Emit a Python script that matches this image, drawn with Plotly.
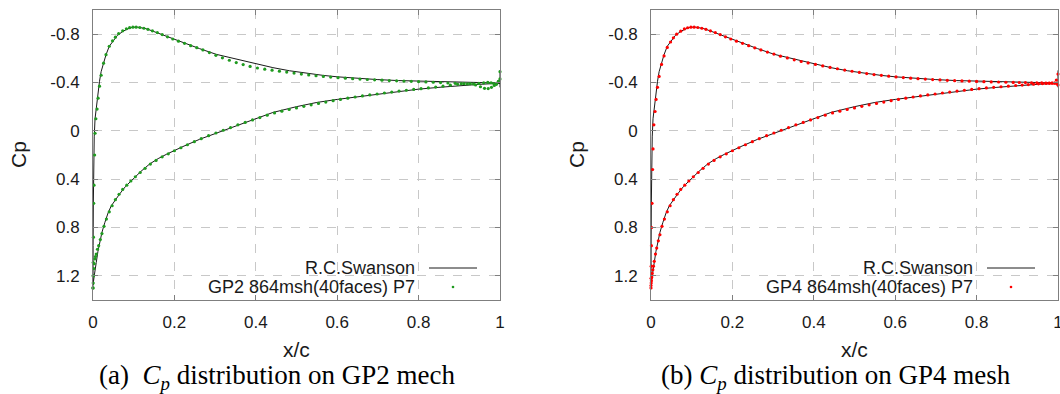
import plotly.graph_objects as go

# ---------------- data ----------------
ref_x_upper = [0.0, 0.0003, 0.0008, 0.0015, 0.003, 0.005, 0.008, 0.012, 0.016, 0.02, 0.026, 0.032, 0.04,
               0.049, 0.06, 0.074, 0.09, 0.098, 0.11, 0.131, 0.155, 0.18, 0.2, 0.221, 0.262, 0.303, 0.344,
               0.385, 0.41, 0.442, 0.483, 0.524, 0.565, 0.6, 0.65, 0.7, 0.75, 0.8, 0.85, 0.9, 0.95, 0.98,
               0.995, 1.0, 1.0]
ref_cp_upper = [1.28, 0.95, 0.6, 0.3, 0.05, -0.1, -0.2, -0.31, -0.41, -0.49, -0.56, -0.63, -0.70,
                -0.74, -0.79, -0.825, -0.85, -0.858, -0.858, -0.845, -0.815, -0.78, -0.757, -0.73, -0.68,
                -0.633, -0.597, -0.565, -0.548, -0.523, -0.497, -0.476, -0.459, -0.447, -0.433, -0.424,
                -0.416, -0.41, -0.405, -0.401, -0.398, -0.397, -0.396, -0.395, -0.50]

ref_x_lower = [0.0, 0.001, 0.003, 0.005, 0.008, 0.012, 0.016, 0.022, 0.029, 0.037, 0.045, 0.057, 0.066,
               0.08, 0.098, 0.118, 0.139, 0.16, 0.18, 0.2, 0.221, 0.262, 0.303, 0.344, 0.385, 0.442, 0.5,
               0.55, 0.6, 0.65, 0.7, 0.75, 0.8, 0.85, 0.9, 0.95, 0.98, 1.0, 1.0]
ref_cp_lower = [1.28, 1.25, 1.2, 1.14, 1.09, 1.0, 0.93, 0.84, 0.76, 0.68, 0.62, 0.56, 0.52,
                0.46, 0.40, 0.335, 0.275, 0.23, 0.195, 0.162, 0.13, 0.07, 0.02, -0.035, -0.085, -0.152,
                -0.2, -0.235, -0.26, -0.282, -0.303, -0.325, -0.345, -0.36, -0.375, -0.385, -0.39, -0.393,
                -0.36]

pts_x_upper = [0.0, 0.0002, 0.0005, 0.001, 0.0017, 0.0025, 0.004, 0.005, 0.007, 0.01, 0.0125, 0.016,
               0.02, 0.026, 0.032, 0.04, 0.048, 0.055, 0.063, 0.073, 0.082, 0.09, 0.098, 0.106, 0.115,
               0.125, 0.135, 0.146, 0.158, 0.17, 0.183, 0.196, 0.21, 0.225, 0.24, 0.255, 0.27, 0.286,
               0.302, 0.318, 0.335, 0.352, 0.369, 0.386, 0.404, 0.422, 0.44, 0.458, 0.476, 0.494, 0.512,
               0.53, 0.548, 0.566, 0.584, 0.602, 0.62, 0.638, 0.656, 0.674, 0.692, 0.71, 0.728, 0.746,
               0.764, 0.782, 0.8, 0.818, 0.836, 0.854, 0.872, 0.89, 0.905, 0.92, 0.935, 0.948, 0.96,
               0.97, 0.978, 0.985, 0.991, 0.996, 1.0]

pts_x_lower = [0.0, 0.0005, 0.001, 0.002, 0.003, 0.0045, 0.006, 0.008, 0.011, 0.014, 0.018, 0.022,
               0.027, 0.033, 0.04, 0.047, 0.055, 0.064, 0.073, 0.083, 0.093, 0.104, 0.116, 0.128, 0.141,
               0.155, 0.17, 0.185, 0.2, 0.216, 0.232, 0.249, 0.266, 0.284, 0.302, 0.32, 0.338, 0.356,
               0.374, 0.392, 0.41, 0.428, 0.446, 0.464, 0.482, 0.5, 0.518, 0.536, 0.554, 0.572, 0.59,
               0.608, 0.626, 0.644, 0.662, 0.68, 0.698, 0.716, 0.734, 0.752, 0.77, 0.788, 0.806, 0.824,
               0.842, 0.86, 0.878, 0.896, 0.912, 0.927, 0.94, 0.952, 0.962, 0.971, 0.979, 0.986, 0.992,
               0.997, 1.0]

gp2_cp_upper = [1.3, 1.2, 1.09, 0.88, 0.6, 0.45, 0.2, 0.02, -0.1, -0.18, -0.27, -0.37,
                -0.46, -0.56, -0.63, -0.7, -0.745, -0.775, -0.805, -0.828, -0.845, -0.854, -0.858, -0.858,
                -0.855, -0.849, -0.84, -0.828, -0.813, -0.797, -0.778, -0.76, -0.742, -0.724, -0.705,
                -0.688, -0.67, -0.648, -0.625, -0.604, -0.584, -0.565, -0.548, -0.533, -0.52, -0.51,
                -0.502, -0.494, -0.486, -0.478, -0.47, -0.463, -0.456, -0.45, -0.445, -0.44, -0.436,
                -0.432, -0.428, -0.425, -0.422, -0.419, -0.416, -0.414, -0.412, -0.41, -0.408, -0.405,
                -0.402, -0.399, -0.396, -0.393, -0.39, -0.388, -0.388, -0.392, -0.397, -0.401, -0.398,
                -0.39, -0.385, -0.41, -0.49]

gp2_cp_lower = [1.3, 1.26, 1.2, 1.14, 1.1, 1.06, 1.04, 1.02, 0.98, 0.95, 0.9, 0.85,
                0.79, 0.73, 0.67, 0.62, 0.57, 0.525, 0.485, 0.45, 0.415, 0.38, 0.345, 0.31, 0.275,
                0.245, 0.215, 0.19, 0.165, 0.14, 0.115, 0.09, 0.065, 0.04, 0.018, -0.005, -0.027, -0.05,
                -0.07, -0.09, -0.11, -0.13, -0.148, -0.163, -0.177, -0.19, -0.203, -0.215, -0.227,
                -0.238, -0.25, -0.26, -0.27, -0.28, -0.289, -0.297, -0.305, -0.313, -0.321, -0.329,
                -0.336, -0.343, -0.349, -0.355, -0.362, -0.37, -0.378, -0.385, -0.39, -0.39, -0.38,
                -0.365, -0.352, -0.35, -0.36, -0.375, -0.39, -0.41, -0.43]

gp4_cp_upper = [1.3, 1.22, 1.12, 0.95, 0.8, 0.6, 0.32, 0.15, -0.05, -0.16, -0.26, -0.36,
                -0.45, -0.55, -0.62, -0.69, -0.735, -0.77, -0.8, -0.825, -0.843, -0.853, -0.858, -0.858,
                -0.855, -0.849, -0.84, -0.828, -0.813, -0.797, -0.778, -0.76, -0.742, -0.724, -0.705,
                -0.687, -0.67, -0.652, -0.635, -0.618, -0.603, -0.588, -0.574, -0.562, -0.55, -0.537,
                -0.525, -0.514, -0.503, -0.493, -0.483, -0.474, -0.466, -0.459, -0.452, -0.446, -0.441,
                -0.436, -0.432, -0.428, -0.424, -0.421, -0.418, -0.415, -0.413, -0.411, -0.409, -0.407,
                -0.405, -0.404, -0.402, -0.401, -0.4, -0.399, -0.398, -0.397, -0.397, -0.396, -0.396,
                -0.396, -0.395, -0.42, -0.47]

gp4_cp_lower = [1.28, 1.26, 1.24, 1.21, 1.18, 1.15, 1.12, 1.08, 1.02, 0.97, 0.91, 0.86,
                0.79, 0.73, 0.67, 0.62, 0.57, 0.525, 0.485, 0.45, 0.415, 0.38, 0.345, 0.31, 0.275,
                0.245, 0.215, 0.19, 0.165, 0.14, 0.115, 0.09, 0.065, 0.04, 0.018, -0.005, -0.027, -0.05,
                -0.07, -0.09, -0.11, -0.13, -0.148, -0.163, -0.177, -0.19, -0.203, -0.215, -0.227,
                -0.238, -0.25, -0.26, -0.27, -0.28, -0.289, -0.297, -0.305, -0.313, -0.321, -0.329,
                -0.336, -0.343, -0.349, -0.355, -0.36, -0.365, -0.37, -0.375, -0.379, -0.383, -0.386,
                -0.389, -0.391, -0.392, -0.393, -0.394, -0.395, -0.39, -0.38]

x_ticks = [0, 0.2, 0.4, 0.6, 0.8, 1.0]
x_tick_labels = ["0", "0.2", "0.4", "0.6", "0.8", "1"]
y_ticks = [-0.8, -0.4, 0, 0.4, 0.8, 1.2]
y_tick_labels = ["-0.8", "-0.4", "0", "0.4", "0.8", "1.2"]

panels = [
    dict(name="GP2 864msh(40faces) P7", color="#1f9a1f",
         cp_upper=gp2_cp_upper, cp_lower=gp2_cp_lower,
         caption="(a)\u00a0\u00a0<i>C<sub>p</sub></i> distribution on GP2 mech"),
    dict(name="GP4 864msh(40faces) P7", color="#ff0000",
         cp_upper=gp4_cp_upper, cp_lower=gp4_cp_lower,
         caption="(b) <i>C<sub>p</sub></i> distribution on GP4 mesh"),
]

# ---------------- layout geometry (pixels of the 1060x394 page) ----------------
W, H = 1060, 394
plot_left = [93, 651]
plot_width = 407
plot_top, plot_bottom = 10, 300
caption_center = [277, 836]


def px(x):
    return x / W


def py(y):
    return 1 - y / H


fig = go.Figure()
sans = "Liberation Sans, Arial, sans-serif"
axis_font = dict(family=sans, size=17, color="#1a1a1a")
annotations = []
shapes = []

for i, p in enumerate(panels):
    xa = "x" if i == 0 else "x2"
    ya = "y" if i == 0 else "y2"
    # reference line (one continuous curve: upper TE -> LE -> lower TE)
    rx = list(reversed(ref_x_upper)) + ref_x_lower[1:]
    ry = list(reversed(ref_cp_upper)) + ref_cp_lower[1:]
    fig.add_trace(go.Scatter(x=rx, y=ry, mode="lines", xaxis=xa, yaxis=ya,
                             line=dict(color="#1a1a1a", width=1), showlegend=False,
                             name="R.C.Swanson", cliponaxis=False))
    fig.add_trace(go.Scatter(x=pts_x_upper + pts_x_lower, y=p["cp_upper"] + p["cp_lower"],
                             mode="markers", xaxis=xa, yaxis=ya,
                             marker=dict(color=p["color"], size=3.2, line=dict(width=0)),
                             showlegend=False, name=p["name"], cliponaxis=False))

    sfx = "" if i == 0 else "2"
    dom_x = [px(plot_left[i]), px(plot_left[i] + plot_width)]
    dom_y = [py(plot_bottom), py(plot_top)]
    common = dict(showline=True, linecolor="#7f7f7f", linewidth=1, mirror="ticks",
                  ticks="inside", ticklen=5, tickcolor="#7f7f7f",
                  showgrid=True, gridcolor="#c8c8c8", griddash="dash", gridwidth=1,
                  zeroline=False, tickfont=axis_font, automargin=False,
                  ticklabeloverflow="allow")
    fig.update_layout({
        "xaxis" + sfx: dict(domain=dom_x, range=[0, 1], tickvals=x_ticks, ticktext=x_tick_labels,
                            anchor="y" + sfx, ticklabelstandoff=7, **common),
        "yaxis" + sfx: dict(domain=dom_y, range=[1.4, -1.0], tickvals=y_ticks, ticktext=y_tick_labels,
                            anchor="x" + sfx, ticklabelstandoff=9, **common),
    })

    # axis titles
    annotations.append(dict(x=px(plot_left[i] - 75), y=py(155), xref="paper", yref="paper",
                            xanchor="center", yanchor="middle",
                            text="Cp", textangle=-90, showarrow=False,
                            font=dict(family=sans, size=21, color="#1a1a1a")))
    annotations.append(dict(x=px(plot_left[i] + plot_width / 2), y=py(349), xref="paper", yref="paper",
                            xanchor="center", yanchor="middle",
                            text="x/c", showarrow=False,
                            font=dict(family=sans, size=21, color="#1a1a1a")))
    # caption
    annotations.append(dict(x=px(caption_center[i]), y=py(377), xref="paper", yref="paper",
                            xanchor="center", yanchor="middle",
                            text=p["caption"], showarrow=False,
                            font=dict(family="Liberation Serif, Times New Roman, serif", size=27,
                                      color="#000000")))
    # legend (gnuplot style: right-aligned text, sample to the right)
    text_right = plot_left[i] + 324
    for row, (label, kind) in enumerate([("R.C.Swanson", "line"), (p["name"], "dot")]):
        yy = 268 + 19 * row
        annotations.append(dict(x=px(text_right), y=py(yy), xref="paper", yref="paper",
                                xanchor="right", yanchor="middle", text=label, showarrow=False,
                                font=dict(family=sans, size=18, color="#1a1a1a")))
        if kind == "line":
            shapes.append(dict(type="line", xref="paper", yref="paper",
                               x0=px(text_right + 12), x1=px(text_right + 60), y0=py(yy), y1=py(yy),
                               line=dict(color="#1a1a1a", width=1)))
        else:
            cx = text_right + 36
            shapes.append(dict(type="circle", xref="paper", yref="paper",
                               x0=px(cx - 1.3), x1=px(cx + 1.3), y0=py(yy - 1.3), y1=py(yy + 1.3),
                               fillcolor=p["color"], line=dict(width=0)))

fig.update_layout(width=W, height=H, margin=dict(l=0, r=0, t=0, b=0, autoexpand=False),
                  paper_bgcolor="white", plot_bgcolor="white",
                  annotations=annotations, shapes=shapes, showlegend=False)

fig.write_html("out.html", config={"displayModeBar": False},
               post_script="document.body.style.margin='0';document.body.style.overflow='hidden';")
